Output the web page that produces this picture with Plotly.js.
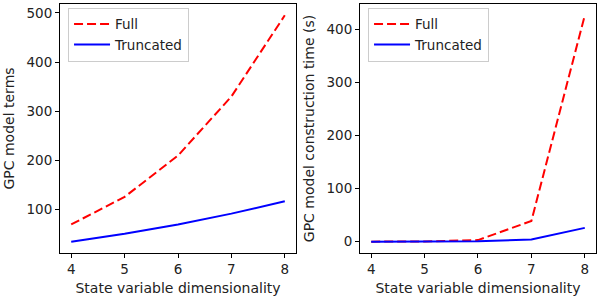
<!DOCTYPE html>
<html><head><meta charset="utf-8">
<script src="https://cdn.plot.ly/plotly-3.0.1.min.js"></script>
<style>body{margin:0;}#c{width:600px;height:300px;}</style>
</head><body><div id="c"></div>
<script>
const dims = [4, 5, 6, 7, 8];
const termsFull = [70, 126, 210, 330, 495];
const termsTrunc = [35, 51, 70, 92, 117];
const timeFull = [0.1, 0.4, 3, 39, 426];
const timeTrunc = [0.05, 0.2, 0.8, 4, 26];

const red = 'rgb(255,0,0)', blue = 'rgb(0,0,255)';
const dash = '9px,4px';
const traces = [
  {x: dims, y: termsFull, name: 'Full', mode: 'lines', line: {color: red, width: 2, dash: dash}, xaxis: 'x', yaxis: 'y', legend: 'legend'},
  {x: dims, y: termsTrunc, name: 'Truncated', mode: 'lines', line: {color: blue, width: 2}, xaxis: 'x', yaxis: 'y', legend: 'legend'},
  {x: dims, y: timeFull, name: 'Full', mode: 'lines', line: {color: red, width: 2, dash: dash}, xaxis: 'x2', yaxis: 'y2', legend: 'legend2'},
  {x: dims, y: timeTrunc, name: 'Truncated', mode: 'lines', line: {color: blue, width: 2}, xaxis: 'x2', yaxis: 'y2', legend: 'legend2'}
];
const font = {family: 'DejaVu Sans', size: 14, color: '#222'};
const ax = {
  showline: true, mirror: true, linecolor: 'black', linewidth: 1,
  ticks: 'outside', ticklen: 4, tickcolor: 'black', showgrid: false, zeroline: false,
  tickfont: {family: 'DejaVu Sans', size: 13.5, color: '#222'}
};
const legBase = {
  bgcolor: 'rgba(255,255,255,0.8)', bordercolor: '#ccc', borderwidth: 1,
  font: {family: 'DejaVu Sans', size: 13.5, color: '#222'},
  xanchor: 'left', yanchor: 'top', tracegroupgap: 0, itemwidth: 36
};
const layout = {
  width: 600, height: 300,
  margin: {l: 60, r: 4, t: 4, b: 47},
  paper_bgcolor: 'white', plot_bgcolor: 'white',
  font: font,
  xaxis: Object.assign({}, ax, {domain: [0, 0.4403], range: [3.79, 8.21], tickvals: dims,
    title: {text: 'State variable dimensionality', font: font, standoff: 6}}),
  yaxis: Object.assign({}, ax, {range: [12, 518], tickvals: [100, 200, 300, 400, 500],
    title: {text: 'GPC model terms', font: font, standoff: 8}}),
  xaxis2: Object.assign({}, ax, {domain: [0.5597, 1], range: [3.79, 8.21], tickvals: dims, anchor: 'y2',
    title: {text: 'State variable dimensionality', font: font, standoff: 6}}),
  yaxis2: Object.assign({}, ax, {range: [-21.3, 447.3], tickvals: [0, 100, 200, 300, 400], anchor: 'x2',
    title: {text: 'GPC model construction time (s)', font: font, standoff: 8}}),
  legend: Object.assign({}, legBase, {x: 0.015, y: 0.985}),
  legend2: Object.assign({}, legBase, {x: 0.5597 + 0.015, y: 0.985}),
  showlegend: true
};
Plotly.newPlot('c', traces, layout, {displayModeBar: false, staticPlot: true});
</script></body></html>
